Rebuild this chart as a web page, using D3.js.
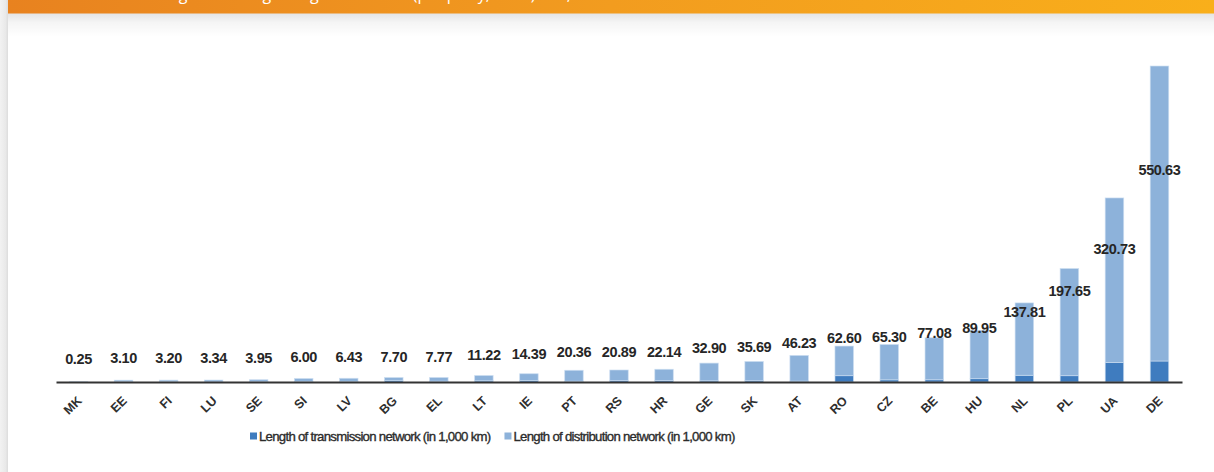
<!DOCTYPE html>
<html>
<head>
<meta charset="utf-8">
<script src="https://cdn.jsdelivr.net/npm/d3@7"></script>
<style>
  html, body { margin: 0; padding: 0; background: #fff; }
  svg { display: block; }
</style>
</head>
<body>
<svg id="chart" width="1214" height="472"></svg>
<script>
// ---- data (values in 1,000 km) ----
const categories = ["MK","EE","FI","LU","SE","SI","LV","BG","EL","LT","IE","PT","RS","HR","GE","SK","AT","RO","CZ","BE","HU","NL","PL","UA","DE"];
const transmission = [0.25, 0.89, 1.29, 0.29, 0.62, 1.17, 1.19, 2.90, 1.46, 2.12, 2.49, 1.38, 2.40, 2.68, 2.10, 2.27, 1.60, 11.00, 3.80, 3.90, 5.80, 11.70, 11.00, 34.00, 36.60];
const distribution = [0.00, 2.21, 1.91, 3.05, 3.33, 4.83, 5.24, 4.80, 6.31, 9.10, 11.90, 18.98, 18.49, 19.46, 30.80, 33.42, 44.63, 51.60, 61.50, 73.18, 84.15, 126.11, 186.65, 286.73, 514.03];
const seriesNames = ["Length of transmission network (in 1,000 km)", "Length of distribution network (in 1,000 km)"];
const titleText = "Total network length and length of gas networks (per party, 2023) in 1,000 km";

const colors = ["#3f7cbf", "#8db2da"];

const svg = d3.select("#chart");
const W = 1214, H = 472;

// ---- frame: left gray strip, orange banner, shadow ----
const defs = svg.append("defs");
const gLeft = defs.append("linearGradient").attr("id", "leftStrip").attr("x1", "0").attr("x2", "1").attr("y1", "0").attr("y2", "0");
gLeft.append("stop").attr("offset", "0").attr("stop-color", "#f2f2f2");
gLeft.append("stop").attr("offset", "0.7").attr("stop-color", "#e9e9e9");
gLeft.append("stop").attr("offset", "1").attr("stop-color", "#dcdcdc");
const gBan = defs.append("linearGradient").attr("id", "banner").attr("x1", "0").attr("x2", "1").attr("y1", "0").attr("y2", "0");
gBan.append("stop").attr("offset", "0").attr("stop-color", "#e8821f");
gBan.append("stop").attr("offset", "0.5").attr("stop-color", "#f29c1f");
gBan.append("stop").attr("offset", "1").attr("stop-color", "#f9af1a");
const gSh = defs.append("linearGradient").attr("id", "shadow").attr("x1", "0").attr("x2", "0").attr("y1", "0").attr("y2", "1");
gSh.append("stop").attr("offset", "0").attr("stop-color", "#000").attr("stop-opacity", 0.11);
gSh.append("stop").attr("offset", "0.4").attr("stop-color", "#000").attr("stop-opacity", 0.04);
gSh.append("stop").attr("offset", "1").attr("stop-color", "#000").attr("stop-opacity", 0);

svg.append("rect").attr("x", 0).attr("y", 0).attr("width", 8).attr("height", H).attr("fill", "url(#leftStrip)");
svg.append("rect").attr("x", 8).attr("y", 13).attr("width", W - 8).attr("height", 24).attr("fill", "url(#shadow)");
svg.append("rect").attr("x", 8).attr("y", 0).attr("width", W - 8).attr("height", 13.5).attr("fill", "url(#banner)");
svg.append("text").attr("x", 49).attr("y", -0.5)
  .attr("fill", "#fff").attr("font-family", "'Open Sans', sans-serif").attr("font-size", 16)
  .text(titleText);

// ---- scales ----
const x = d3.scaleBand().domain(categories).range([56, 1182]).paddingInner(0.59).paddingOuter(0.295);
const y = d3.scaleLinear().domain([0, 600]).range([382, 37.7]);

const rows = categories.map((c, i) => ({ cat: c, trans: transmission[i], dist: distribution[i] }));
const stack = d3.stack().keys(["trans", "dist"]);
const layers = stack(rows);

const gBars = svg.append("g");
gBars.selectAll("g").data(layers).join("g")
  .attr("fill", (d, i) => colors[i])
  .selectAll("rect").data(d => d).join("rect")
  .attr("x", d => x(d.data.cat))
  .attr("width", x.bandwidth())
  .attr("y", d => y(d[1]))
  .attr("height", d => Math.max(0, y(d[0]) - y(d[1])))
  .attr("stroke", "#c9dcf0").attr("stroke-width", 0.8).attr("stroke-opacity", 0.8);

// ---- axis ----
const axis = svg.append("g").attr("transform", `translate(0,382)`)
  .call(d3.axisBottom(x).tickSize(0).tickSizeOuter(0));
axis.select(".domain").attr("stroke", "#333").attr("stroke-width", 2);
axis.selectAll(".tick text")
  .attr("x", 0).attr("y", 0).attr("dy", 0)
  .attr("text-anchor", "end")
  .attr("transform", "translate(4,19.5) rotate(-45)")
  .attr("font-family", "'Liberation Sans', Arial, sans-serif")
  .attr("font-size", 12.5).attr("font-weight", "bold").attr("fill", "#2e2e2e");

// ---- value labels (total) ----
svg.append("g").selectAll("text").data(rows).join("text")
  .attr("x", d => x(d.cat) + x.bandwidth() / 2)
  .attr("y", d => y((d.trans + d.dist) * 0.6) - 23)
  .attr("dy", "0.36em")
  .attr("text-anchor", "middle")
  .attr("font-family", "'Liberation Sans', Arial, sans-serif")
  .attr("font-size", 14.5).attr("font-weight", "bold").attr("fill", "#262626")
  .attr("letter-spacing", -0.4)
  .text(d => (d.trans + d.dist).toFixed(2));

// ---- legend ----
const legend = svg.append("g").attr("transform", "translate(250,436)");
let lx = 0;
seriesNames.forEach((name, i) => {
  const g = legend.append("g").attr("transform", `translate(${lx},0)`);
  g.append("rect").attr("x", 0).attr("y", -3.5).attr("width", 7).attr("height", 7).attr("fill", colors[i]);
  const t = g.append("text").attr("x", 9).attr("y", 0).attr("dy", "0.35em")
    .attr("font-family", "'Liberation Sans', Arial, sans-serif")
    .attr("font-size", 13.2).attr("fill", "#2b2b2b").attr("letter-spacing", -0.72)
    .attr("stroke", "#2b2b2b").attr("stroke-width", 0.35)
    .text(name);
  lx += 9 + t.node().getComputedTextLength() + 14;
});
</script>
</body>
</html>
